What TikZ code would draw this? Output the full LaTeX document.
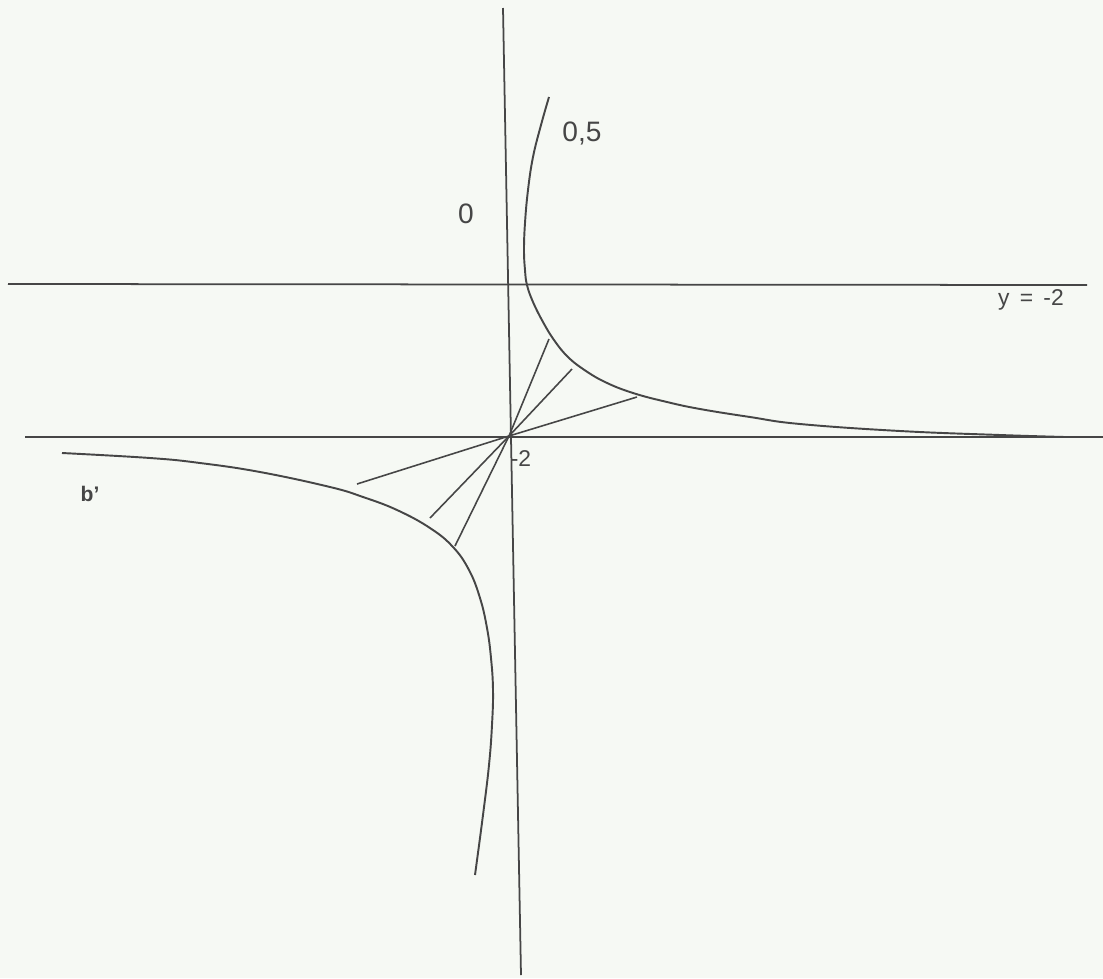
\documentclass[tikz,border=0pt]{standalone}
\usepackage{fontspec}
\setmainfont{Liberation Sans}
\definecolor{paper}{RGB}{246,249,244}
\definecolor{ink}{RGB}{70,70,70}
\begin{document}
\begin{tikzpicture}[x=0.02cm,y=-0.02cm,
  axis/.style={ink,line width=1pt},
  curve/.style={ink,line width=1.1pt},
  fan/.style={ink,line width=0.9pt},
  lbl/.style={inner sep=0pt,text=ink}]
\fill[paper] (0,0) rectangle (1103,978);
\useasboundingbox (0,0) rectangle (1103,978);
% axes
\coordinate (vt) at (503,8);
\coordinate (vb) at (521,975);
\coordinate (h1l) at (8,284);
\coordinate (h1r) at (1087,285);
\coordinate (h2l) at (25,437);
\coordinate (h2r) at (1103,437);
\draw[axis] (vt) -- (vb);
\draw[axis] (h1l) -- (h1r);
\draw[axis] (h2l) -- (h2r);
% upper branch
\draw[curve] plot[smooth,tension=0.7] coordinates {
 (549,97) (541,125) (533,157) (528,190) (525,223) (524,250) (525,270)
 (527,285) (533,302) (543,322) (554,340) (567,356) (583,369) (605,382)
 (633,393) (667,402) (700,409) (750,417) (800,424) (900,431) (1000,435) (1065,437)};
% lower branch
\draw[curve] plot[smooth,tension=0.7] coordinates {
 (62,453) (150,458) (200,463) (260,472) (330,487) (363,497) (397,510)
 (430,528) (453,547) (469,570) (480,598) (487,628) (491,658) (493,690)
 (492,725) (489,765) (483,815) (475,875)};
% fan of lines through the centre
\coordinate (O) at (509,436);
\coordinate (a1) at (549,339);
\coordinate (b1) at (455,546);
\coordinate (a2) at (572,369);
\coordinate (b2) at (430,518);
\coordinate (a3) at (637,397);
\coordinate (b3) at (357,484);
\draw[fan] (a1) -- (O) -- (b1);
\draw[fan] (a2) -- (O) -- (b2);
\draw[fan] (a3) -- (O) -- (b3);
% labels
\node[lbl,font=\fontsize{16}{18}\selectfont] (l05) at (582,133) {0,5};
\node[lbl,font=\fontsize{16}{18}\selectfont] (l0) at (466,214) {0};
\node[lbl,font=\fontsize{13}{15}\selectfont] (ly) at (1031,300) {y\hspace{0.45em}=\hspace{0.45em}-2};
\node[lbl,font=\fontsize{13}{15}\selectfont] (lm2) at (521,459) {-2};
\node[lbl,font=\bfseries\fontsize{12}{14}\selectfont] (lb) at (90,494) {b’};
\end{tikzpicture}
\end{document}
